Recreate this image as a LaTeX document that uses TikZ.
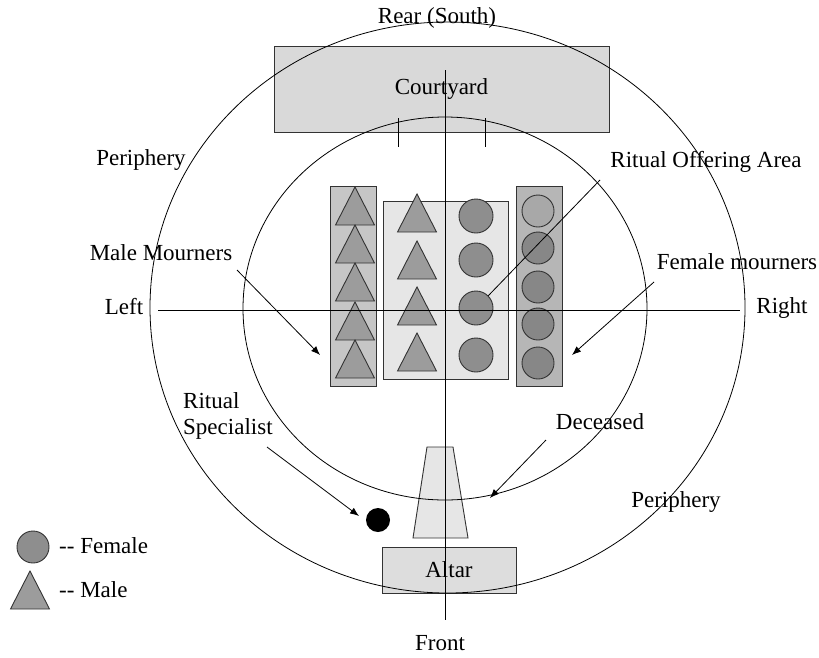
\documentclass[tikz,border=0pt]{standalone}
\usepackage{fontspec}
\setmainfont{Liberation Serif}
\usetikzlibrary{arrows.meta}
\definecolor{yardgray}{HTML}{D9D9D9}
\definecolor{leftgray}{HTML}{C6C6C6}
\definecolor{midgray}{HTML}{E6E6E6}
\definecolor{rightgray}{HTML}{B6B6B6}
\definecolor{trigray}{HTML}{9C9C9C}
\definecolor{dotgray}{HTML}{8E8E8E}
\definecolor{paledot}{HTML}{A8A8A8}
\definecolor{edgegray}{HTML}{333333}
\tikzset{
  txt/.style={font=\fontsize{23}{26}\selectfont, inner sep=0pt},
  area/.style={draw=edgegray, line width=0.9pt, inner sep=0pt},
  female/.style={circle, draw=edgegray, line width=0.9pt, fill=dotgray, minimum size=34pt, inner sep=0pt},
  guide/.style={line width=0.8pt},
  pointer/.style={line width=0.8pt, -{Latex[length=9pt,width=7pt]}},
  male/.pic={\draw[draw=edgegray, line width=0.9pt, fill=trigray] (-19.5,19) -- (0,-19) -- (19.5,19) -- cycle;}
}
\begin{document}
\begin{tikzpicture}[x=1pt,y=-1pt]
\useasboundingbox (0,0) rectangle (819,657);

% courtyard and altar
\node[area, fill=yardgray, minimum width=335pt, minimum height=86pt, txt] (yard) at (441.5,89) {Courtyard};
\node[area, fill=yardgray!90, minimum width=134pt, minimum height=46pt, txt] (altar) at (449,570) {Altar};

% coffin of the deceased
\draw[area, fill=midgray] (427,447) -- (453,447) -- (468,538) -- (413,538) -- cycle;
\coordinate (coffin) at (490,498);

% mourner blocks
\node[area, fill=leftgray, minimum width=46pt, minimum height=200pt] (lbox) at (353,286) {};
\node[area, fill=midgray, minimum width=125pt, minimum height=178pt] (mbox) at (445.5,290) {};
\node[area, fill=rightgray, minimum width=46pt, minimum height=200pt] (rbox) at (539,286) {};

% male mourners, outer column
\foreach \y [count=\i] in {206,244,282,321,359}
  \pic (lm\i) at (355,\y) {male};
% male mourners, inner column
\foreach \y [count=\i] in {213,260,306,352}
  \pic (im\i) at (417,\y) {male};
% female mourners, inner column
\foreach \y [count=\i] in {216,260,308,355}
  \node[female] (if\i) at (476,\y) {};
% female mourners, outer column
\node[female, minimum size=32pt, fill=paledot] (of1) at (538,211) {};
\foreach \y [count=\i from 2] in {248,287,324,363}
  \node[female, minimum size=32pt, fill=dotgray!95!black] (of\i) at (538,\y) {};

% ritual specialist
\node[circle, fill=black, minimum size=24pt, inner sep=0pt] (spec) at (378,520) {};

% periphery rings and axes
\draw[guide] (447.5,307.5) ellipse [x radius=297.5pt, y radius=285.5pt];
\draw[guide] (445,308.5) ellipse [x radius=202pt, y radius=191.5pt];
\coordinate (axN) at (445,70);
\coordinate (axS) at (445,620);
\coordinate (axW) at (158,310);
\coordinate (axE) at (740,310);
\draw[guide] (axN) -- (axS);
\draw[guide] (axW) -- (axE);
\draw[guide] (398,118) -- (398,147);
\draw[guide] (485,118) -- (485,147);

% labels
\node[txt] (rear) at (437,18) {Rear (South)};
\node[txt] (front) at (440,643) {Front};
\node[txt] (left) at (124,307) {Left};
\node[txt] (right) at (782,308) {Right};
\node[txt] (perNW) at (141,160) {Periphery};
\node[txt] (perSE) at (676,502) {Periphery};
\node[txt] (maleM) at (161,253) {Male Mourners};
\node[txt] (femM) at (737,262) {Female mourners};
\node[txt] (offer) at (706,162) {Ritual Offering Area};
\node[txt, align=left, anchor=north west] (ritual) at (183,392) {Ritual\\Specialist};
\node[txt] (dec) at (600,422) {Deceased};

% pointers
\coordinate (maleA) at (237,270);
\coordinate (maleB) at (320,355);
\draw[pointer] (maleA) -- (maleB);
\coordinate (femA) at (654,282);
\coordinate (femB) at (572,355);
\draw[pointer] (femA) -- (femB);
\coordinate (offA) at (600,180);
\draw[guide] (offA) -- (if3.north east);
\coordinate (specA) at (267,447);
\coordinate (specB) at (359,516);
\draw[pointer] (specA) -- (specB);
\coordinate (decA) at (546,440);
\draw[pointer] (decA) -- (coffin);

% legend
\node[female, minimum size=32pt] (keyF) at (33,547) {};
\node[txt, anchor=west] (keyFt) at (59,546) {{-}{-} Female};
\pic (keyM) at (30,590) {male};
\node[txt, anchor=west] (keyMt) at (59,590) {{-}{-} Male};
\end{tikzpicture}
\end{document}
